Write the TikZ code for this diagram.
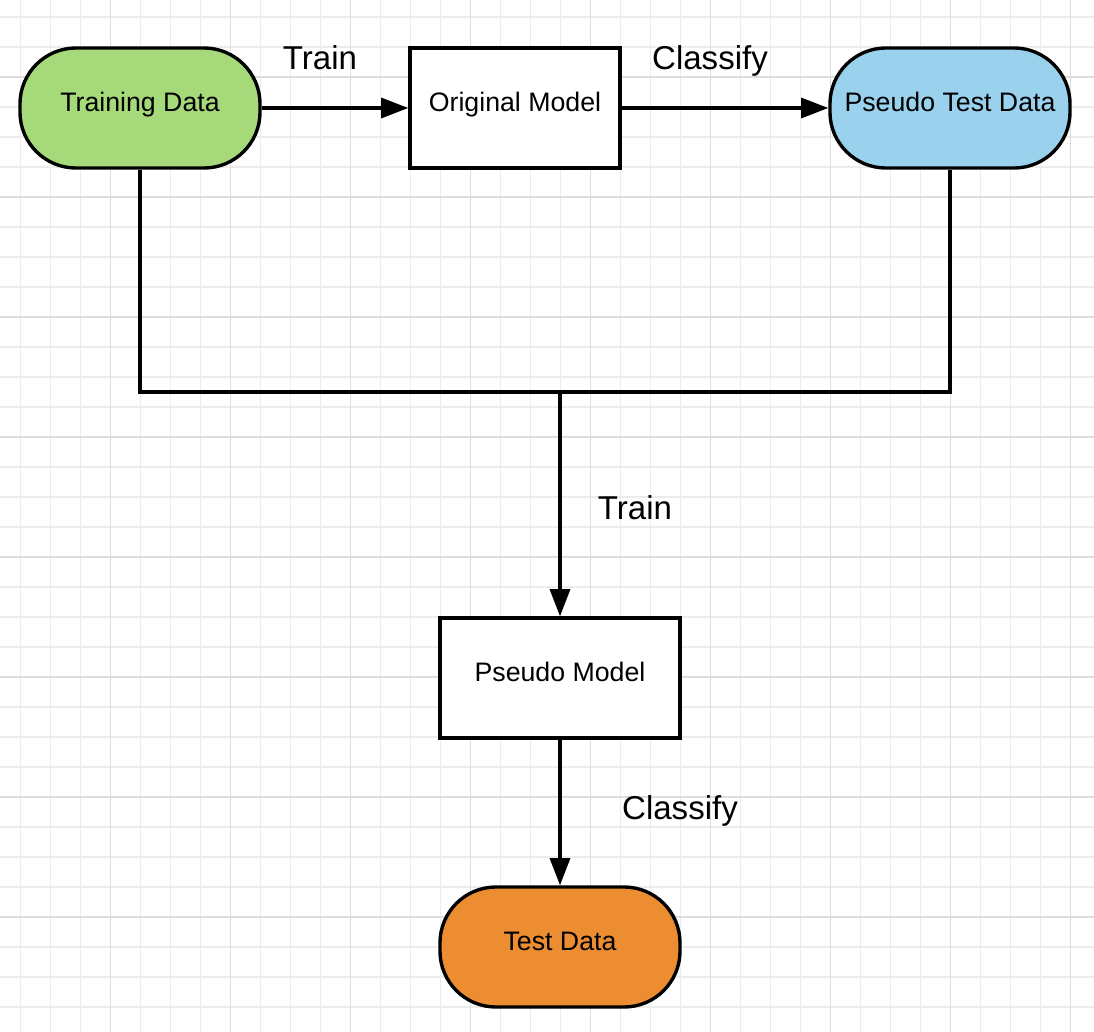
\documentclass[tikz,border=0pt]{standalone}
\usepackage{fontspec}
\setmainfont{Liberation Sans}
\usetikzlibrary{arrows.meta}

\definecolor{traingreen}{RGB}{165,217,122}
\definecolor{pseudoblue}{RGB}{154,210,238}
\definecolor{testorange}{RGB}{236,141,50}
\definecolor{minorgrid}{RGB}{236,236,236}
\definecolor{majorgrid}{RGB}{221,221,221}

\tikzset{
  datanode/.style={draw, line width=2.4pt, rounded corners=1.4cm,
    minimum width=6cm, minimum height=3cm, inner sep=0pt,
    font=\fontsize{19}{22}\selectfont, text height=0.72em, text depth=0.2em},
  modelnode/.style={draw, fill=white, line width=2.4pt,
    minimum height=3cm, inner sep=0pt,
    font=\fontsize{19}{22}\selectfont, text height=0.72em, text depth=0.2em},
  steplabel/.style={font=\fontsize{23.5}{27}\selectfont, text height=0.72em, text depth=0pt},
  flow/.style={line width=2.4pt, -{Triangle[length=0.68cm, width=0.5cm]}},
}

\begin{document}
\begin{tikzpicture}[x=0.025cm, y=-0.025cm]

\useasboundingbox (0,0) rectangle (1094,1032);
\fill[white] (0,0) rectangle (1094,1032);

% background grid
\foreach \gx in {0,...,35}
   \draw[minorgrid, line width=0.75pt] ({20.5+30*\gx},0) -- ({20.5+30*\gx},1032);
\foreach \gy in {0,...,33}
   \draw[minorgrid, line width=0.75pt] (0,{17+30*\gy}) -- (1094,{17+30*\gy});
\foreach \gx in {0,...,8}
   \draw[majorgrid, line width=0.75pt] ({110.5+120*\gx},0) -- ({110.5+120*\gx},1032);
\foreach \gy in {0,...,7}
   \draw[majorgrid, line width=0.75pt] (0,{77+120*\gy}) -- (1094,{77+120*\gy});

% top row
\node[datanode, fill=traingreen] (train) at (140,108) {Training Data};
\node[modelnode, minimum width=5.25cm] (orig) at (515,108) {Original Model};
\node[datanode, fill=pseudoblue] (ptest) at (950,108) {Pseudo Test Data};

% bottom column
\node[modelnode, minimum width=6cm] (pmodel) at (560,678) {Pseudo Model};
\node[datanode, fill=testorange] (test) at (560,947) {Test Data};

\coordinate (merge) at (560,392);

\draw[flow] (train) -- (orig);
\draw[flow] (orig) -- (ptest);

\draw[line width=2.4pt] (train.south) |- (merge) -| (ptest.south);
\draw[flow] (merge) -- (pmodel);
\draw[flow] (pmodel) -- (test);

% step labels
\node[steplabel] (trainA) at (320,64) {Train};
\node[steplabel] (classifyA) at (710,64) {Classify};
\node[steplabel] (trainB) at (635,514) {Train};
\node[steplabel] (classifyB) at (680,814) {Classify};

\end{tikzpicture}
\end{document}
